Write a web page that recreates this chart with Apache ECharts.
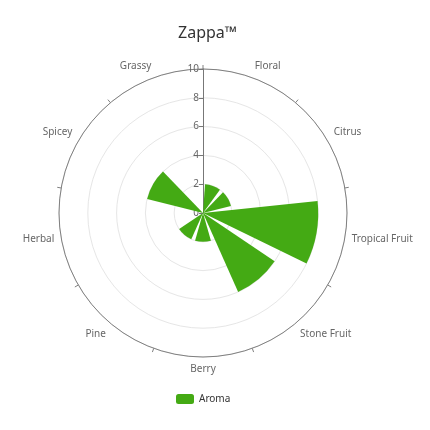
<!DOCTYPE html>
<html>
<head>
<meta charset="utf-8">
<script src="https://cdn.jsdelivr.net/npm/echarts@6/dist/echarts.min.js"></script>
<style>
html, body { margin: 0; padding: 0; background: #fff; }
#main { width: 430px; height: 430px; }
</style>
</head>
<body>
<div id="main"></div>
<script>
// 数据
var categories = ['Floral', 'Citrus', 'Tropical Fruit', 'Stone Fruit', 'Berry', 'Pine', 'Herbal', 'Spicey', 'Grassy'];
var aromaValues = [2, 2, 8, 6, 2, 2, 0, 4, 0];
var radiusTicks = [0, 10, 2]; // min, max, interval

var myChart = echarts.init(document.getElementById('main'));

var option = {
    backgroundColor: '#fff',
    title: {
        text: 'Zappa™',
        left: 173,
        top: 20,
        textStyle: {
            color: '#333',
            fontFamily: 'Noto Sans',
            fontSize: 16,
            fontWeight: 'normal'
        }
    },
    legend: {
        data: ['Aroma'],
        left: 171,
        top: 389,
        itemWidth: 18,
        itemHeight: 10,
        icon: 'roundRect',
        textStyle: {
            color: '#333',
            fontFamily: 'Noto Sans',
            fontSize: 10
        }
    },
    polar: {
        center: [203, 213],
        radius: 144
    },
    angleAxis: {
        type: 'category',
        data: categories,
        startAngle: 90,
        axisLine: { lineStyle: { color: '#808080', width: 1 } },
        axisTick: { show: true, length: 4, lineStyle: { color: '#808080' } },
        axisLabel: {
            color: '#666',
            fontFamily: 'Noto Sans',
            fontSize: 10,
            margin: 7
        },
        splitLine: { show: false }
    },
    radiusAxis: {
        min: radiusTicks[0],
        max: radiusTicks[1],
        interval: radiusTicks[2],
        axisLine: { lineStyle: { color: '#777' } },
        axisTick: { show: true, length: 4, lineStyle: { color: '#777' } },
        axisLabel: {
            color: '#666',
            fontFamily: 'Noto Sans',
            fontSize: 10,
            margin: 4
        },
        splitLine: { show: true, lineStyle: { color: '#e6e6e6' } }
    },
    series: [{
        name: 'Aroma',
        type: 'bar',
        coordinateSystem: 'polar',
        data: aromaValues,
        barCategoryGap: '20%',
        itemStyle: { color: '#44aa14' }
    }]
};

myChart.setOption(option);
</script>
</body>
</html>
